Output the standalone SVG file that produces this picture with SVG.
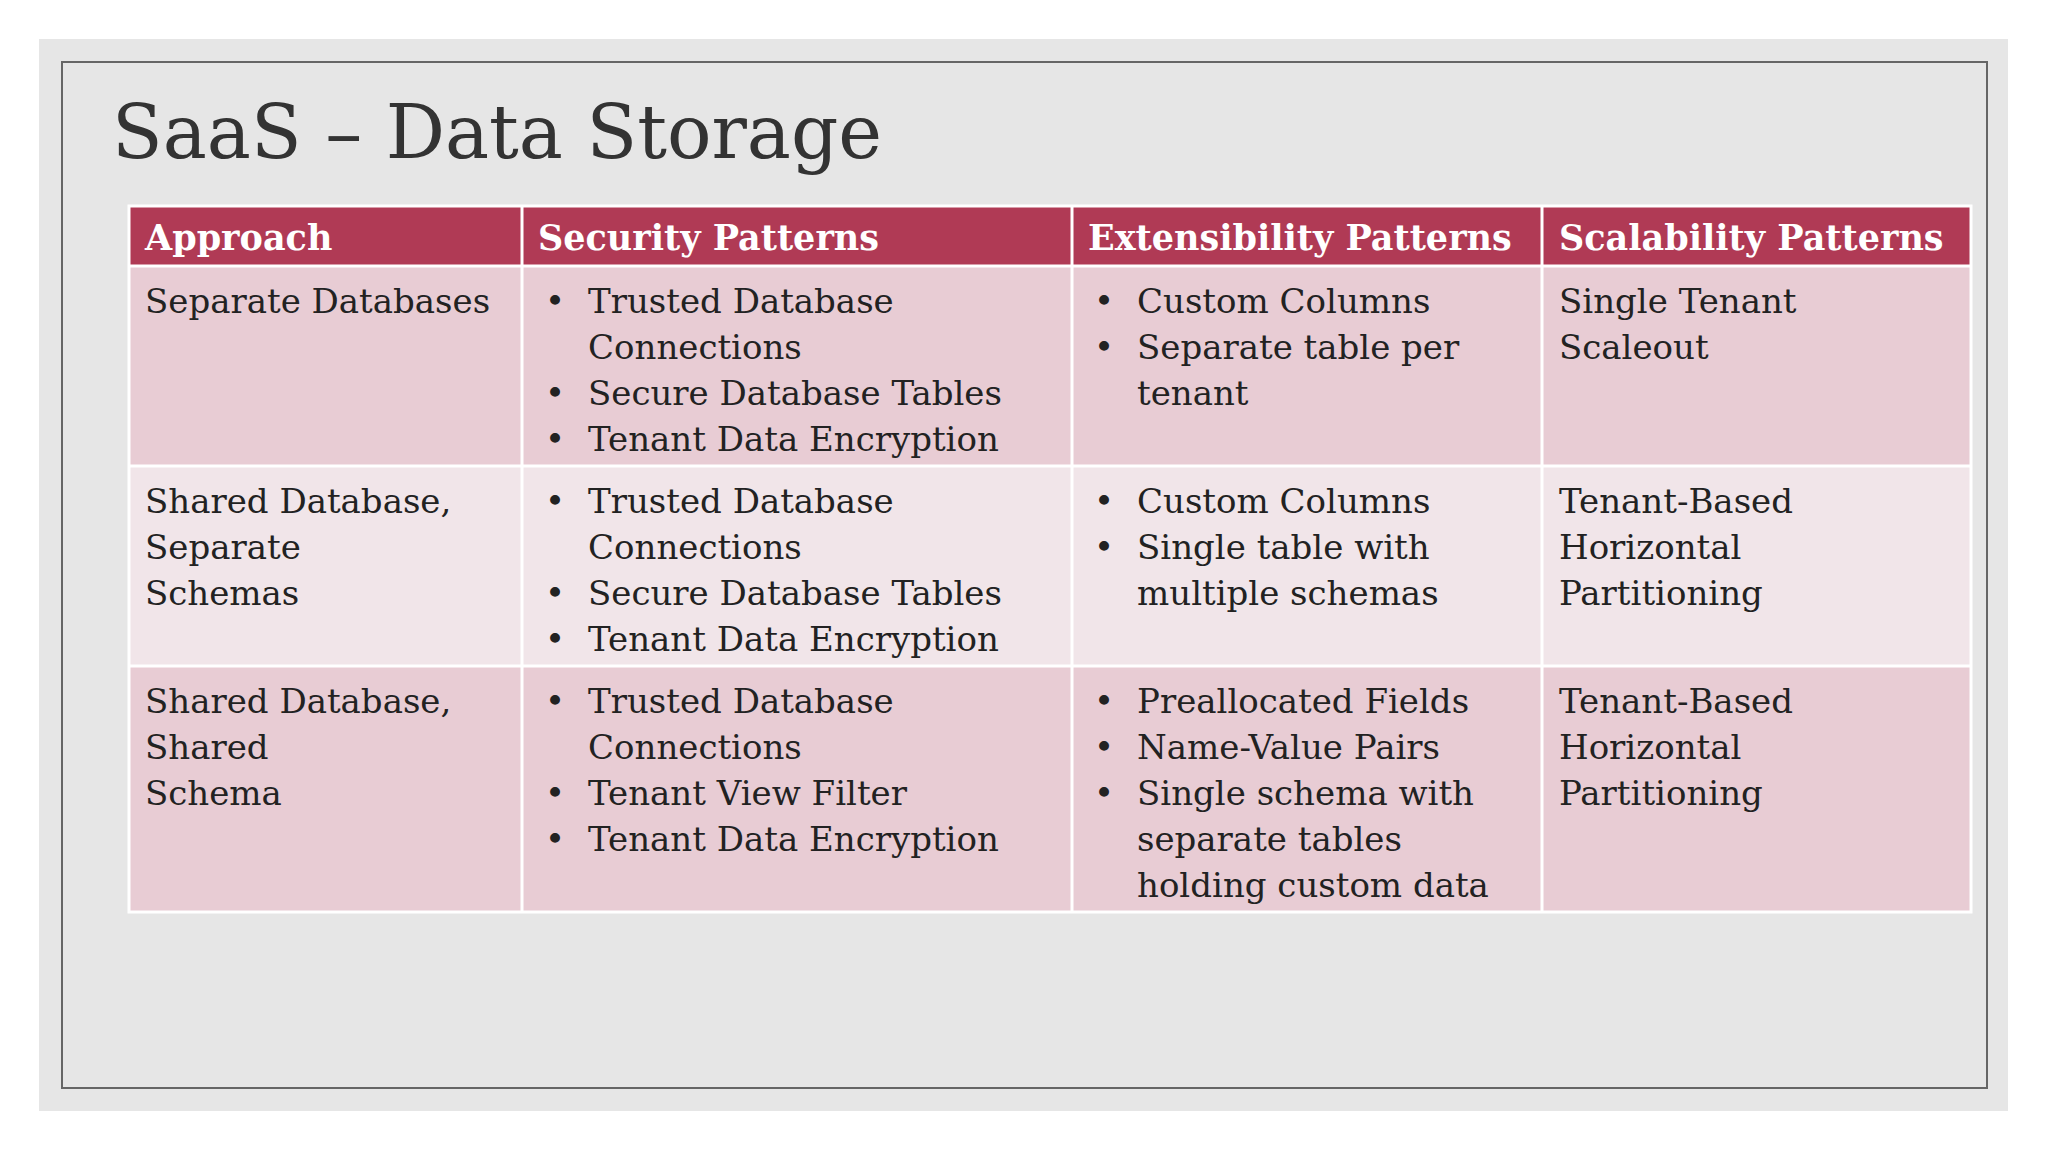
<svg xmlns="http://www.w3.org/2000/svg" width="2048" height="1152" viewBox="0 0 2048 1152">
<style>
.t{font-family:"DejaVu Serif","Liberation Serif",serif;font-size:34px;fill:#222}
.h{font-family:"DejaVu Serif","Liberation Serif",serif;font-size:35px;font-weight:bold;fill:#fff}
.a{fill:#E8CCD4}.b{fill:#F1E5E9}
</style>
<rect width="2048" height="1152" fill="#fff"/>
<rect x="39" y="39" width="1969" height="1072" fill="#E6E6E6"/>
<rect x="62" y="62" width="1925" height="1026" fill="none" stroke="#666" stroke-width="2"/>
<text x="112" y="158" font-family="DejaVu Serif,serif" font-size="74" fill="#333">SaaS – Data Storage</text>
<g id="table">
<rect x="129" y="206" width="1842" height="60" fill="#B03A55"/>
<rect class="a" x="129" y="266" width="1842" height="200"/>
<rect class="b" x="129" y="466" width="1842" height="200"/>
<rect class="a" x="129" y="666" width="1842" height="246"/>
<g stroke="#fff" stroke-width="3" fill="none">
<rect x="129" y="206" width="1842" height="706"/>
<line x1="129" y1="266" x2="1971" y2="266"/><line x1="129" y1="466" x2="1971" y2="466"/><line x1="129" y1="666" x2="1971" y2="666"/>
<line x1="522" y1="206" x2="522" y2="912"/><line x1="1072" y1="206" x2="1072" y2="912"/><line x1="1542" y1="206" x2="1542" y2="912"/>
</g>
<text class="h" x="145" y="250">Approach</text>
<text class="h" x="538" y="250">Security Patterns</text>
<text class="h" x="1088" y="250">Extensibility Patterns</text>
<text class="h" x="1559" y="250">Scalability Patterns</text>
<g class="t">
<text x="145" y="313">Separate Databases</text>
<text x="545" y="313">•</text><text x="588" y="313">Trusted Database</text>
<text x="588" y="359">Connections</text>
<text x="545" y="405">•</text><text x="588" y="405">Secure Database Tables</text>
<text x="545" y="451">•</text><text x="588" y="451">Tenant Data Encryption</text>
<text x="1094" y="313">•</text><text x="1137" y="313">Custom Columns</text>
<text x="1094" y="359">•</text><text x="1137" y="359">Separate table per</text>
<text x="1137" y="405">tenant</text>
<text x="1559" y="313">Single Tenant</text>
<text x="1559" y="359">Scaleout</text>

<text x="145" y="513">Shared Database,</text>
<text x="145" y="559">Separate</text>
<text x="145" y="605">Schemas</text>
<text x="545" y="513">•</text><text x="588" y="513">Trusted Database</text>
<text x="588" y="559">Connections</text>
<text x="545" y="605">•</text><text x="588" y="605">Secure Database Tables</text>
<text x="545" y="651">•</text><text x="588" y="651">Tenant Data Encryption</text>
<text x="1094" y="513">•</text><text x="1137" y="513">Custom Columns</text>
<text x="1094" y="559">•</text><text x="1137" y="559">Single table with</text>
<text x="1137" y="605">multiple schemas</text>
<text x="1559" y="513">Tenant-Based</text>
<text x="1559" y="559">Horizontal</text>
<text x="1559" y="605">Partitioning</text>

<text x="145" y="713">Shared Database,</text>
<text x="145" y="759">Shared</text>
<text x="145" y="805">Schema</text>
<text x="545" y="713">•</text><text x="588" y="713">Trusted Database</text>
<text x="588" y="759">Connections</text>
<text x="545" y="805">•</text><text x="588" y="805">Tenant View Filter</text>
<text x="545" y="851">•</text><text x="588" y="851">Tenant Data Encryption</text>
<text x="1094" y="713">•</text><text x="1137" y="713">Preallocated Fields</text>
<text x="1094" y="759">•</text><text x="1137" y="759">Name-Value Pairs</text>
<text x="1094" y="805">•</text><text x="1137" y="805">Single schema with</text>
<text x="1137" y="851">separate tables</text>
<text x="1137" y="897">holding custom data</text>
<text x="1559" y="713">Tenant-Based</text>
<text x="1559" y="759">Horizontal</text>
<text x="1559" y="805">Partitioning</text>
</g>
</g>
</svg>
